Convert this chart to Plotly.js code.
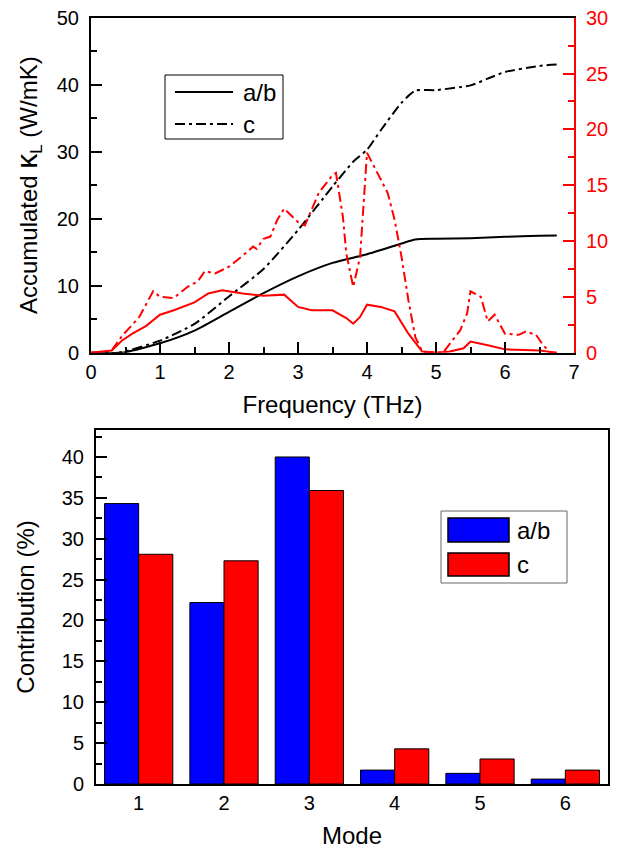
<!DOCTYPE html>
<html>
<head>
<meta charset="utf-8">
<script src="https://cdn.plot.ly/plotly-3.0.1.min.js"></script>
<style>html,body{margin:0;padding:0;background:#fff;}#chart{width:620px;height:850px;}</style>
</head>
<body>
<div id="chart"></div>
<script>
// ---- Top panel: accumulated thermal conductivity (left axis) ----
const freqAccAB = [0,0.45,1,1.5,2,2.5,3,3.5,4,4.5,4.7,5,5.5,6,6.5,6.75];
const accAB     = [0,0,1.4,3.3,6.1,8.9,11.4,13.4,14.7,16.3,16.9,17.0,17.1,17.3,17.45,17.5];
const freqAccC  = [0,0.4,1,1.5,2,2.5,3,3.5,3.8,4,4.2,4.5,4.7,5,5.5,5.75,6,6.5,6.75];
const accC      = [0,0,1.8,4.3,8.4,12.5,18.3,24.8,28.5,30.3,33.2,37.3,39.1,39.2,39.9,40.9,41.9,42.8,43.0];

// ---- Top panel: spectral contribution (right axis, red) ----
const freqSpecAB = [0,0.3,0.45,0.6,0.8,1.0,1.2,1.5,1.7,1.9,2.2,2.5,2.8,3.0,3.2,3.5,3.7,3.8,3.9,4.0,4.2,4.4,4.6,4.8,5.0,5.2,5.4,5.5,5.8,6.0,6.5,6.75];
const specAB     = [0,0.2,1.1,1.7,2.4,3.4,3.8,4.5,5.3,5.6,5.3,5.1,5.2,4.1,3.8,3.8,3.1,2.6,3.2,4.3,4.1,3.7,1.7,0.1,0,0.1,0.4,1.0,0.6,0.3,0.2,0];
const freqSpecC  = [0,0.3,0.45,0.7,0.9,1.0,1.2,1.4,1.55,1.65,1.8,2.0,2.2,2.35,2.4,2.5,2.6,2.7,2.8,3.0,3.1,3.3,3.5,3.55,3.65,3.7,3.8,3.9,4.0,4.1,4.2,4.3,4.4,4.5,4.6,4.7,4.8,5.0,5.1,5.2,5.35,5.45,5.5,5.65,5.75,5.85,6.0,6.2,6.3,6.45,6.55,6.65,6.75];
const specC      = [0,0.2,1.5,3.2,5.5,5.0,4.9,5.9,6.4,7.3,7.1,7.7,8.7,9.5,9.3,10.2,10.4,11.9,12.9,11.7,11.4,14.3,15.9,16.1,12.2,8.9,5.9,8.6,17.9,16.7,15.6,14.3,11.9,8.6,4.7,1.4,0.1,0,0,0.8,2.0,3.5,5.5,5.0,2.8,3.4,1.7,1.6,1.9,1.6,0.7,0,0];

// ---- Bottom panel: mode contribution ----
const modes     = [1,2,3,4,5,6];
const contribAB = [34.3,22.2,40.0,1.7,1.3,0.6];
const contribC  = [28.1,27.3,35.9,4.3,3.06,1.7];

const seriesNames = ['a/b','c'];
const FONT = 'Liberation Sans, Arial, sans-serif';
const DASHDOT = '10px,4px,3px,4px';
const BLUE = '#0000ff', RED = '#ff0000';

const traces = [
  {x: freqAccAB, y: accAB, type:'scatter', mode:'lines', name: seriesNames[0],
   line:{color:'#000', width:2, shape:'spline', smoothing:0.6}, xaxis:'x', yaxis:'y'},
  {x: freqAccC, y: accC, type:'scatter', mode:'lines', name: seriesNames[1],
   line:{color:'#000', width:2, dash:DASHDOT, shape:'spline', smoothing:0.6}, xaxis:'x', yaxis:'y'},
  {x: freqSpecAB, y: specAB, type:'scatter', mode:'lines', name: seriesNames[0]+' spectral',
   line:{color:RED, width:2}, xaxis:'x', yaxis:'y2'},
  {x: freqSpecC, y: specC, type:'scatter', mode:'lines', name: seriesNames[1]+' spectral',
   line:{color:RED, width:2, dash:DASHDOT}, xaxis:'x', yaxis:'y2'},
  {x: modes, y: contribAB, type:'bar', name: seriesNames[0], xaxis:'x2', yaxis:'y3',
   marker:{color:BLUE, line:{color:'#000', width:1}}},
  {x: modes, y: contribC, type:'bar', name: seriesNames[1], xaxis:'x2', yaxis:'y3',
   marker:{color:RED, line:{color:'#000', width:1}}}
];

const W = 620, H = 850;
const px = v => v / W;          // paper x from pixel
const py = v => 1 - v / H;      // paper y from pixel
const axBase = {showgrid:false, zeroline:false, showline:true, linewidth:2, linecolor:'#000',
  ticks:'inside', ticklen:11, tickwidth:2, tickcolor:'#000', tickfont:{size:20, color:'#000'}};

// manual legends (to match the long legend keys of the original)
const shapes = [
  // top legend
  {type:'rect', xref:'paper', yref:'paper', x0:px(165), x1:px(283), y0:py(75), y1:py(139),
   line:{color:'#000', width:1}, fillcolor:'#fff'},
  {type:'line', xref:'paper', yref:'paper', x0:px(175), x1:px(233), y0:py(92), y1:py(92),
   line:{color:'#000', width:2}},
  {type:'line', xref:'paper', yref:'paper', x0:px(175), x1:px(233), y0:py(124), y1:py(124),
   line:{color:'#000', width:2, dash:DASHDOT}},
  // bottom legend
  {type:'rect', xref:'paper', yref:'paper', x0:px(441), x1:px(567), y0:py(511), y1:py(583),
   line:{color:'#666', width:1}, fillcolor:'#fff'},
  {type:'rect', xref:'paper', yref:'paper', x0:px(448), x1:px(509), y0:py(518), y1:py(542),
   line:{color:'#000', width:1.5}, fillcolor:BLUE},
  {type:'rect', xref:'paper', yref:'paper', x0:px(448), x1:px(509), y0:py(553), y1:py(576),
   line:{color:'#000', width:1.5}, fillcolor:RED}
];
const annotations = [
  {xref:'paper', yref:'paper', x:px(241), y:py(92), text:seriesNames[0], showarrow:false,
   xanchor:'left', yanchor:'middle', font:{size:24, color:'#000'}},
  {xref:'paper', yref:'paper', x:px(241), y:py(124), text:seriesNames[1], showarrow:false,
   xanchor:'left', yanchor:'middle', font:{size:24, color:'#000'}},
  {xref:'paper', yref:'paper', x:px(515), y:py(530), text:seriesNames[0], showarrow:false,
   xanchor:'left', yanchor:'middle', font:{size:24, color:'#000'}},
  {xref:'paper', yref:'paper', x:px(515), y:py(564), text:seriesNames[1], showarrow:false,
   xanchor:'left', yanchor:'middle', font:{size:24, color:'#000'}}
];

const layout = {
  width: W, height: H,
  margin:{l:0, r:0, t:0, b:0},
  paper_bgcolor:'#fff', plot_bgcolor:'#fff',
  font:{family: FONT, color:'#000'},
  showlegend:false,
  barmode:'group', bargap:0.2, bargroupgap:0,
  shapes: shapes, annotations: annotations,
  xaxis: Object.assign({}, axBase, {
    domain:[91/W, 574/W], anchor:'y', range:[0,7], dtick:1, mirror:true,
    minor:{ticks:'inside', ticklen:6, tickwidth:2, dtick:0.5, tickcolor:'#000'},
    title:{text:'Frequency (THz)', font:{size:24}, standoff:14}
  }),
  yaxis: Object.assign({}, axBase, {
    domain:[1-352.7/H, 1-17.7/H], anchor:'x', range:[0,50], dtick:10, ticklabelstandoff:6,
    minor:{ticks:'inside', ticklen:6, tickwidth:2, dtick:5, tickcolor:'#000'},
    title:{text:'Accumulated <span style="font-size:30px">κ</span><sub>L</sub> (W/mK)', font:{size:24}, standoff:12}
  }),
  yaxis2: Object.assign({}, axBase, {
    overlaying:'y', side:'right', anchor:'x', range:[0,30], dtick:5, ticklabelstandoff:6,
    linecolor:RED, tickcolor:RED, tickfont:{size:20, color:RED},
    minor:{ticks:'inside', ticklen:6, tickwidth:2, dtick:2.5, tickcolor:RED}
  }),
  xaxis2: Object.assign({}, axBase, {
    domain:[96/W, 608/W], anchor:'y3', range:[0.5,6.5], dtick:1, mirror:true, ticks:'',
    title:{text:'Mode', font:{size:24}, standoff:14}
  }),
  yaxis3: Object.assign({}, axBase, {
    domain:[1-784/H, 1-430/H], anchor:'x2', range:[0,43.3], dtick:5, mirror:true, ticklabelstandoff:6,
    minor:{ticks:'inside', ticklen:6, tickwidth:2, dtick:2.5, tickcolor:'#000'},
    title:{text:'Contribution (%)', font:{size:24}, standoff:20}
  })
};

Plotly.newPlot('chart', traces, layout, {displayModeBar:false, staticPlot:true});
</script>
</body>
</html>
